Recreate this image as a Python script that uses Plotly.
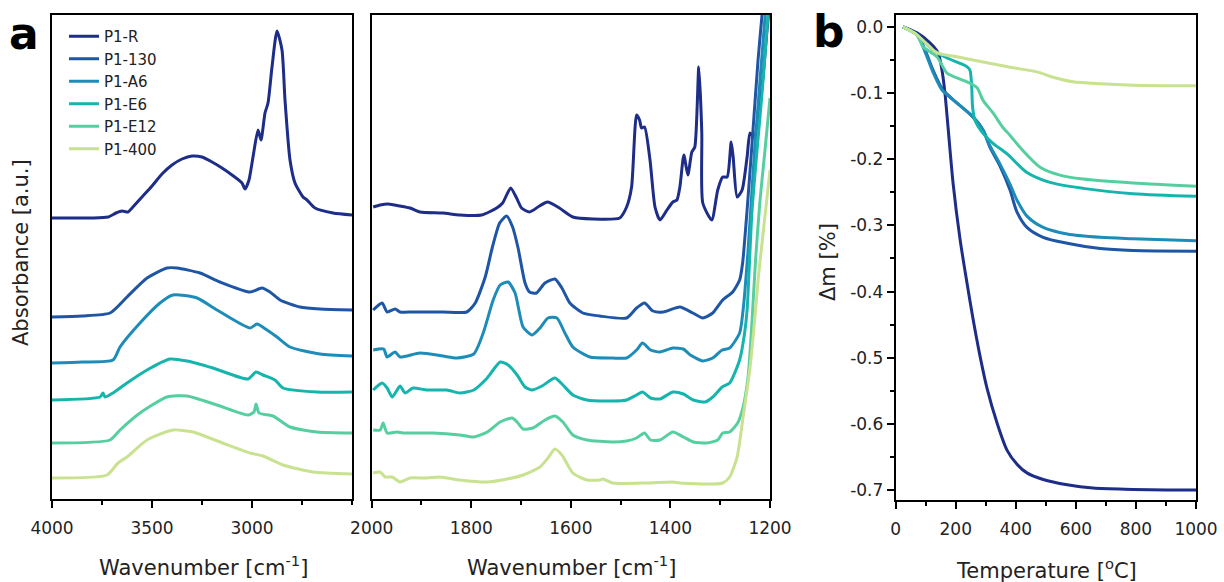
import plotly.graph_objects as go

# ---------------- series names & colours ----------------
NAMES = ["P1-R", "P1-130", "P1-A6", "P1-E6", "P1-E12", "P1-400"]
COLORS = ["#1d2d88", "#1e55a5", "#1e8cb8", "#15b5ad", "#56cfa0", "#c8e290"]

# ---------------- FTIR, 4000-2500 cm-1 (absorbance, a.u., stacked) ----------------
R_HI_WN = [4000, 3900, 3800, 3720, 3680, 3650, 3620, 3600, 3550, 3500, 3450, 3400, 3350, 3300, 3250, 3200,
           3150, 3100, 3050, 3035, 3015, 2995, 2970, 2955, 2935, 2920, 2900, 2875, 2850, 2835, 2810, 2785,
           2745, 2725, 2685, 2595, 2500]
R_HI_ABS = [2.81, 2.81, 2.81, 2.82, 2.86, 2.88, 2.87, 2.91, 3.02, 3.13, 3.25, 3.34, 3.40, 3.43, 3.42, 3.37,
            3.31, 3.24, 3.16, 3.10, 3.19, 3.42, 3.69, 3.59, 3.86, 3.96, 4.32, 4.68, 4.49, 3.99, 3.39, 3.16,
            3.02, 2.99, 2.91, 2.86, 2.84]

A130_HI_WN = [4000, 3850, 3710, 3625, 3525, 3425, 3375, 3260, 3160, 3010, 2950, 2910, 2860, 2760, 2660, 2500]
A130_HI_ABS = [1.82, 1.83, 1.86, 2.02, 2.21, 2.31, 2.31, 2.26, 2.17, 2.07, 2.11, 2.07, 1.99, 1.92, 1.90, 1.89]

A6_HI_WN = [4000, 3850, 3695, 3660, 3560, 3460, 3395, 3275, 3175, 3010, 2975, 2925, 2875, 2810, 2660, 2500]
A6_HI_ABS = [1.36, 1.37, 1.39, 1.52, 1.76, 1.96, 2.04, 2.01, 1.89, 1.71, 1.75, 1.69, 1.62, 1.52, 1.45, 1.43]

E6_HI_WN = [4000, 3760, 3745, 3735, 3695, 3625, 3525, 3410, 3325, 3195, 3020, 2980, 2945, 2885, 2845, 2675, 2500]
E6_HI_ABS = [0.99, 1.02, 1.06, 1.02, 1.06, 1.16, 1.29, 1.40, 1.38, 1.31, 1.20, 1.27, 1.24, 1.19, 1.11, 1.07, 1.07]

E12_HI_WN = [4000, 3710, 3660, 3560, 3425, 3325, 3175, 3020, 2990, 2980, 2965, 2895, 2810, 2675, 2500]
E12_HI_ABS = [0.56, 0.59, 0.69, 0.86, 1.02, 1.03, 0.94, 0.84, 0.87, 0.95, 0.86, 0.83, 0.72, 0.67, 0.66]

A400_HI_WN = [4000, 3725, 3670, 3625, 3525, 3395, 3295, 3160, 3010, 2945, 2845, 2695, 2500]
A400_HI_ABS = [0.21, 0.24, 0.36, 0.42, 0.59, 0.69, 0.67, 0.57, 0.46, 0.43, 0.34, 0.27, 0.25]

# ---------------- FTIR, 2000-1200 cm-1 ----------------
R_LO_WN = [1997, 1983, 1967, 1943, 1923, 1903, 1857, 1823, 1779, 1749, 1737, 1721, 1709, 1699, 1683, 1663,
           1647, 1623, 1596, 1556, 1502, 1488, 1478, 1468, 1462, 1458, 1452, 1441, 1431, 1421, 1407, 1395,
           1387, 1381, 1373, 1365, 1357, 1351, 1343, 1337, 1335, 1317, 1305, 1295, 1286, 1278, 1274, 1266,
           1256, 1246, 1240, 1232, 1224, 1214, 1206, 1200]
R_LO_ABS = [2.92, 2.94, 2.95, 2.93, 2.91, 2.87, 2.86, 2.84, 2.84, 2.91, 2.96, 3.11, 3.01, 2.91, 2.87, 2.93,
            2.97, 2.91, 2.82, 2.80, 2.81, 2.92, 3.12, 3.84, 3.79, 3.71, 3.72, 3.39, 2.92, 2.79, 2.89, 2.97,
            2.99, 3.12, 3.44, 3.24, 3.47, 3.52, 4.32, 3.66, 2.96, 2.79, 3.09, 3.22, 3.22, 3.57, 3.42, 3.02,
            3.09, 3.42, 3.66, 3.62, 3.79, 4.22, 4.69, 4.99]

A130_LO_WN = [1997, 1979, 1969, 1953, 1943, 1917, 1857, 1809, 1792, 1772, 1758, 1743, 1729, 1717, 1706, 1692,
              1683, 1669, 1652, 1632, 1618, 1602, 1576, 1542, 1488, 1468, 1452, 1435, 1415, 1381, 1355, 1335,
              1315, 1295, 1275, 1261, 1255, 1246, 1236, 1224, 1216, 1208]
A130_LO_ABS = [1.89, 1.96, 1.87, 1.90, 1.87, 1.87, 1.87, 1.87, 1.96, 2.22, 2.51, 2.76, 2.83, 2.72, 2.51, 2.16,
               2.07, 2.06, 2.16, 2.20, 2.11, 1.96, 1.86, 1.83, 1.81, 1.91, 1.96, 1.88, 1.87, 1.92, 1.86, 1.81,
               1.86, 1.99, 2.07, 2.19, 2.36, 2.89, 3.56, 4.39, 4.84, 5.29]

A6_LO_WN = [1997, 1976, 1969, 1953, 1943, 1903, 1857, 1829, 1795, 1776, 1756, 1742, 1726, 1712, 1696, 1678,
            1662, 1646, 1628, 1612, 1596, 1562, 1516, 1488, 1468, 1456, 1440, 1421, 1395, 1374, 1360, 1335,
            1315, 1296, 1281, 1261, 1254, 1244, 1230, 1210, 1200]
A6_LO_ABS = [1.49, 1.50, 1.42, 1.47, 1.42, 1.46, 1.43, 1.41, 1.45, 1.66, 1.99, 2.14, 2.17, 2.06, 1.72, 1.64,
             1.71, 1.81, 1.81, 1.66, 1.52, 1.42, 1.41, 1.41, 1.49, 1.56, 1.49, 1.47, 1.51, 1.50, 1.44, 1.38,
             1.41, 1.49, 1.51, 1.66, 1.89, 2.49, 3.56, 4.82, 5.59]

E6_LO_WN = [1997, 1979, 1969, 1959, 1949, 1943, 1933, 1917, 1889, 1849, 1823, 1795, 1768, 1742, 1726, 1708,
            1692, 1678, 1658, 1632, 1616, 1596, 1568, 1516, 1488, 1468, 1456, 1440, 1421, 1395, 1374, 1354,
            1330, 1315, 1296, 1281, 1261, 1251, 1246, 1236, 1216, 1204, 1200]
E6_LO_ABS = [1.09, 1.16, 1.11, 1.02, 1.09, 1.13, 1.06, 1.11, 1.09, 1.09, 1.06, 1.09, 1.21, 1.37, 1.34, 1.24,
             1.12, 1.09, 1.13, 1.21, 1.14, 1.04, 0.99, 0.98, 0.99, 1.04, 1.07, 1.01, 1.00, 1.07, 1.05, 0.99,
             0.97, 1.02, 1.12, 1.16, 1.39, 1.66, 1.89, 2.89, 4.06, 4.84, 5.09]

E12_LO_WN = [1997, 1983, 1977, 1969, 1949, 1937, 1917, 1877, 1823, 1795, 1768, 1742, 1718, 1708, 1696, 1676,
             1652, 1632, 1616, 1596, 1568, 1516, 1488, 1468, 1452, 1440, 1421, 1395, 1374, 1354, 1327, 1305,
             1295, 1281, 1265, 1254, 1244, 1236, 1229, 1220, 1210, 1200]
E12_LO_ABS = [0.69, 0.69, 0.76, 0.66, 0.67, 0.66, 0.66, 0.66, 0.64, 0.62, 0.67, 0.77, 0.81, 0.77, 0.70, 0.71,
              0.79, 0.83, 0.77, 0.64, 0.59, 0.57, 0.58, 0.61, 0.66, 0.59, 0.59, 0.67, 0.62, 0.57, 0.56, 0.59,
              0.66, 0.67, 0.76, 0.92, 1.22, 1.79, 2.39, 2.99, 3.49, 4.01]

A400_LO_WN = [1997, 1983, 1973, 1959, 1943, 1923, 1889, 1863, 1823, 1768, 1728, 1696, 1662, 1646, 1632, 1618,
              1596, 1568, 1542, 1536, 1516, 1447, 1395, 1381, 1315, 1295, 1281, 1266, 1254, 1240, 1229, 1223,
              1200]
A400_LO_ABS = [0.26, 0.27, 0.22, 0.22, 0.17, 0.21, 0.21, 0.22, 0.19, 0.17, 0.20, 0.24, 0.32, 0.41, 0.50, 0.44,
               0.26, 0.19, 0.19, 0.20, 0.16, 0.16, 0.17, 0.16, 0.15, 0.16, 0.22, 0.42, 0.82, 1.32, 1.89, 2.24,
               3.29]

# ---------------- TGA: mass change vs temperature ----------------
R_T = [24, 71, 114, 141, 154, 164, 174, 191, 214, 237, 257, 281, 304, 337, 371, 404, 437, 491, 571, 657, 790, 903, 1000]
R_DM = [0.0, -0.009, -0.024, -0.039, -0.065, -0.100, -0.150, -0.236, -0.320, -0.386, -0.440, -0.498,
        -0.546, -0.598, -0.640, -0.661, -0.674, -0.684, -0.692, -0.697, -0.699, -0.700, -0.700]

A130_T = [24, 71, 98, 124, 157, 204, 257, 291, 314, 347, 381, 404, 437, 491, 571, 681, 790, 1000]
A130_DM = [0.0, -0.012, -0.035, -0.065, -0.095, -0.115, -0.136, -0.156, -0.182, -0.210, -0.247, -0.280,
           -0.303, -0.318, -0.327, -0.335, -0.338, -0.339]

A6_T = [24, 71, 98, 124, 147, 157, 204, 257, 291, 314, 347, 381, 404, 437, 491, 571, 681, 790, 1000]
A6_DM = [0.0, -0.012, -0.038, -0.068, -0.090, -0.097, -0.115, -0.136, -0.156, -0.180, -0.207, -0.238,
         -0.262, -0.286, -0.303, -0.313, -0.318, -0.320, -0.323]

E6_T = [24, 71, 124, 171, 214, 237, 247, 253, 256, 264, 291, 324, 371, 437, 514, 624, 790, 1000]
E6_DM = [0.0, -0.012, -0.035, -0.047, -0.055, -0.060, -0.065, -0.090, -0.121, -0.141, -0.161, -0.176,
         -0.192, -0.220, -0.235, -0.244, -0.252, -0.256]

E12_T = [24, 71, 91, 137, 171, 204, 247, 271, 291, 324, 357, 381, 414, 481, 547, 624, 790, 1000]
E12_DM = [0.0, -0.012, -0.030, -0.045, -0.070, -0.077, -0.085, -0.092, -0.111, -0.130, -0.152, -0.164,
          -0.182, -0.212, -0.224, -0.230, -0.236, -0.241]

A400_T = [24, 71, 137, 204, 291, 381, 471, 524, 591, 681, 790, 1000]
A400_DM = [0.0, -0.012, -0.039, -0.045, -0.053, -0.061, -0.068, -0.076, -0.083, -0.086, -0.088, -0.089]

HI_X = [R_HI_WN, A130_HI_WN, A6_HI_WN, E6_HI_WN, E12_HI_WN, A400_HI_WN]
HI_Y = [R_HI_ABS, A130_HI_ABS, A6_HI_ABS, E6_HI_ABS, E12_HI_ABS, A400_HI_ABS]
LO_X = [R_LO_WN, A130_LO_WN, A6_LO_WN, E6_LO_WN, E12_LO_WN, A400_LO_WN]
LO_Y = [R_LO_ABS, A130_LO_ABS, A6_LO_ABS, E6_LO_ABS, E12_LO_ABS, A400_LO_ABS]
TG_X = [R_T, A130_T, A6_T, E6_T, E12_T, A400_T]
TG_Y = [R_DM, A130_DM, A6_DM, E6_DM, E12_DM, A400_DM]

HI_TICKS = [4000, 3500, 3000]
LO_TICKS = [2000, 1800, 1600, 1400, 1200]
T_TICKS = [0, 200, 400, 600, 800, 1000]
DM_TICKS = [0.0, -0.1, -0.2, -0.3, -0.4, -0.5, -0.6, -0.7]
DM_TICKTEXT = ["0.0", "-0.1", "-0.2", "-0.3", "-0.4", "-0.5", "-0.6", "-0.7"]

FONT = "DejaVu Sans"
W, H = 1224, 582

fig = go.Figure()
for i in range(len(NAMES)):
    common = dict(mode="lines", name=NAMES[i], hoverinfo="skip")
    fig.add_trace(go.Scatter(x=HI_X[i], y=HI_Y[i], xaxis="x", yaxis="y", showlegend=True,
                             line=dict(color=COLORS[i], width=3, shape="spline", smoothing=0.6), **common))
    fig.add_trace(go.Scatter(x=LO_X[i], y=LO_Y[i], xaxis="x2", yaxis="y2", showlegend=False,
                             line=dict(color=COLORS[i], width=3, shape="spline", smoothing=0.6), **common))
    fig.add_trace(go.Scatter(x=TG_X[i], y=TG_Y[i], xaxis="x3", yaxis="y3", showlegend=False,
                             line=dict(color=COLORS[i], width=3, shape="spline", smoothing=0.8), **common))


def px_x(p):
    return p / W


def px_y(p):
    return 1 - p / H


line_common = dict(showline=True, linecolor="black", linewidth=2, mirror=True, showgrid=False,
                   zeroline=False, automargin=False,
                   tickfont=dict(family=FONT, size=17, color="#222"))
tick_common = dict(ticks="outside", tickcolor="black", tickwidth=2, ticklen=7)
minor_common = dict(ticks="outside", ticklen=4, tickwidth=2, tickcolor="black")

ya_dom = [px_y(499), px_y(15)]
fig.update_layout(
    width=W, height=H, margin=dict(l=0, r=0, t=0, b=0, pad=0, autoexpand=False),
    paper_bgcolor="white", plot_bgcolor="white",
    font=dict(family=FONT, color="#222"),
    xaxis=dict(domain=[px_x(52), px_x(352)], range=[4000, 2500], tickvals=HI_TICKS, ticklabelstandoff=6,
               minor=dict(dtick=250, tick0=0, **minor_common), anchor="y", **line_common, **tick_common),
    yaxis=dict(domain=ya_dom, range=[0, 4.84], showticklabels=False, ticks="", anchor="x", **line_common),
    xaxis2=dict(domain=[px_x(371.7), px_x(770)], range=[2000, 1200], tickvals=LO_TICKS, ticklabelstandoff=6,
                minor=dict(dtick=100, tick0=0, **minor_common), anchor="y2", **line_common, **tick_common),
    yaxis2=dict(domain=ya_dom, range=[0, 4.84], showticklabels=False, ticks="", anchor="x2", **line_common),
    xaxis3=dict(domain=[px_x(895.7), px_x(1196)], range=[0, 1000], tickvals=T_TICKS, ticklabelstandoff=6,
                minor=dict(dtick=100, tick0=0, **minor_common), anchor="y3", **line_common, **tick_common),
    yaxis3=dict(domain=[px_y(500), px_y(15)], range=[-0.715, 0.018], tickvals=DM_TICKS, ticktext=DM_TICKTEXT,
                minor=dict(dtick=0.05, tick0=0, **minor_common), anchor="x3", **line_common, **tick_common),
    legend=dict(x=px_x(64), y=px_y(20), xanchor="left", yanchor="top", bgcolor="rgba(0,0,0,0)",
                font=dict(family=FONT, size=15, color="#222"), tracegroupgap=0, itemwidth=30),
    showlegend=True,
)

ann = [
    dict(text="Absorbance [a.u.]", x=px_x(21), y=px_y(253), textangle=-90, size=21, color="#222"),
    dict(text="Wavenumber [cm<sup>-1</sup>]", x=px_x(203), y=px_y(566), size=21, color="#222"),
    dict(text="Wavenumber [cm<sup>-1</sup>]", x=px_x(571), y=px_y(566), size=21, color="#222"),
    dict(text="Temperature [<sup>o</sup>C]", x=px_x(1046), y=px_y(569), size=21, color="#222"),
    dict(text="\u0394m [%]", x=px_x(828), y=px_y(262), textangle=-90, size=21, color="#222"),
    dict(text="<b>a</b>", x=px_x(24), y=px_y(33), size=44, color="black"),
    dict(text="<b>b</b>", x=px_x(829), y=px_y(31), size=44, color="black"),
]
annotations = []
for a in ann:
    annotations.append(dict(text=a["text"], x=a["x"], y=a["y"], textangle=a.get("textangle", 0),
                            xref="paper", yref="paper", showarrow=False, xanchor="center", yanchor="middle",
                            font=dict(family=FONT, size=a["size"], color=a["color"])))
fig.update_layout(annotations=annotations)

fig.write_html("out.html")
